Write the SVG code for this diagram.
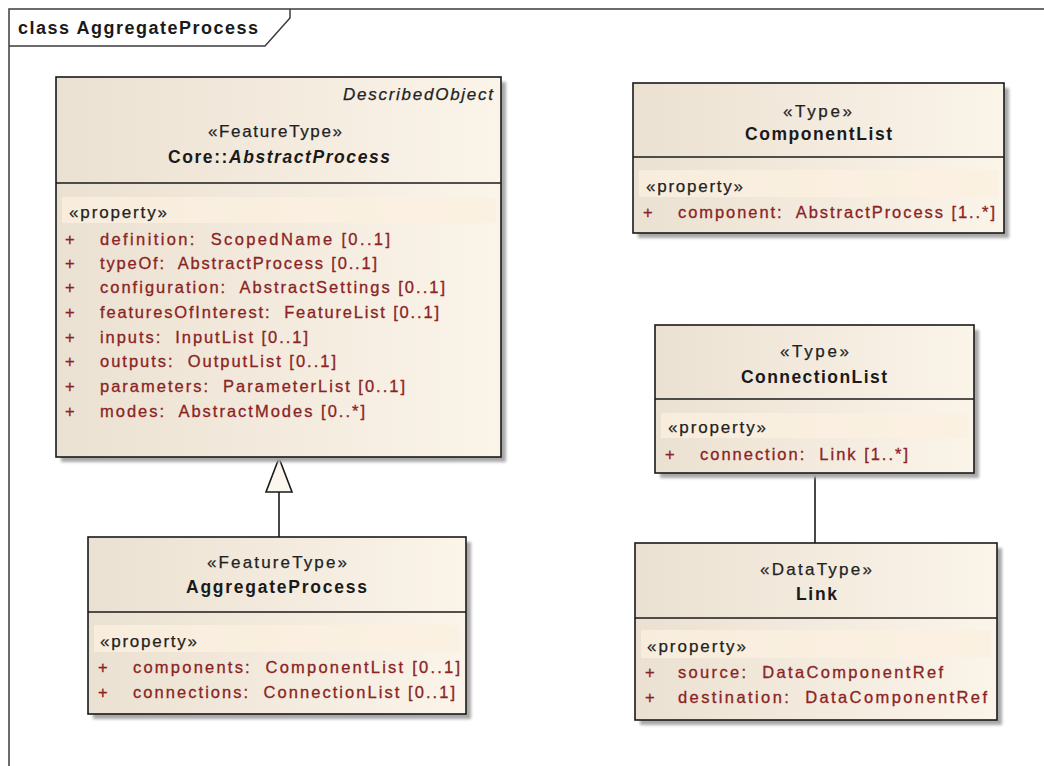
<svg xmlns="http://www.w3.org/2000/svg" width="1044" height="766" viewBox="0 0 1044 766">
<defs>
<linearGradient id="gf" x1="0" y1="0" x2="1" y2="0">
<stop offset="0" stop-color="#ebe1d2"/>
<stop offset="1" stop-color="#fbf4e9"/>
</linearGradient>
<filter id="sh" x="-5%" y="-5%" width="115%" height="115%">
<feGaussianBlur stdDeviation="1.5"/>
</filter>
<style>
.frame{fill:none;stroke:#3c3c3c;stroke-width:1.5}
.box{fill:url(#gf);stroke:#1a1a1a;stroke-width:1.6}
.shadow{fill:#a8a8a8;filter:url(#sh)}
.sep{stroke:#1a1a1a;stroke-width:1.6}
.band{fill:#fbf0e0;opacity:0.8}
text{white-space:pre}
.t{font-family:"Liberation Sans",Arial,sans-serif;font-size:17px;fill:#222;stroke:#222;stroke-width:0.25}
.n{font-family:"Liberation Sans",Arial,sans-serif;font-size:17.5px;font-weight:bold;fill:#1a1a1a}
.ttl{font-family:"Liberation Sans",Arial,sans-serif;font-size:18px;font-weight:bold;fill:#1a1a1a}
.i{font-style:italic}
.a{font-family:"Liberation Sans",Arial,sans-serif;font-size:16.5px;fill:#8b2323;stroke:#8b2323;stroke-width:0.3}
.line{stroke:#1a1a1a;stroke-width:1.6;fill:none}
</style>
</defs>
<g id="frame">
<path class="frame" d="M9,766 V9 H1044"/>
<path class="frame" d="M9,46 H265 L290,18 V9"/>
<text class="ttl" x="18" y="34" textLength="240" lengthAdjust="spacing">class AggregateProcess</text>
</g>
<g id="connectors">
<line class="line" x1="279" y1="537" x2="279" y2="492"/>
<polygon points="279,458 266,492 292,492" fill="#fbf6ee" stroke="#1a1a1a" stroke-width="1.6"/>
<line class="line" x1="815" y1="473" x2="815" y2="543"/>
</g>
<g id="AbstractProcess">
<rect class="shadow" x="61" y="82" width="445" height="380"/>
<rect class="box" x="56" y="77" width="445" height="380"/>
<line class="sep" x1="56" y1="183" x2="501" y2="183"/>
<rect class="band" x="62" y="197" width="434" height="26"/>
<text class="t i" x="493" y="100" text-anchor="end" textLength="150" lengthAdjust="spacing">DescribedObject</text>
<text class="t" x="208" y="137" textLength="134" lengthAdjust="spacing">«FeatureType»</text>
<text class="n" x="168" y="163" textLength="222" lengthAdjust="spacing">Core::<tspan class="i">AbstractProcess</tspan></text>
<text class="t" x="69" y="218" textLength="98" lengthAdjust="spacing">«property»</text>
<text class="a" x="65" y="245">+</text>
<text class="a" x="100" y="245" textLength="290" lengthAdjust="spacing">definition:  ScopedName [0..1]</text>
<text class="a" x="65" y="269">+</text>
<text class="a" x="100" y="269" textLength="277" lengthAdjust="spacing">typeOf:  AbstractProcess [0..1]</text>
<text class="a" x="65" y="293">+</text>
<text class="a" x="100" y="293" textLength="345" lengthAdjust="spacing">configuration:  AbstractSettings [0..1]</text>
<text class="a" x="65" y="318">+</text>
<text class="a" x="100" y="318" textLength="339" lengthAdjust="spacing">featuresOfInterest:  FeatureList [0..1]</text>
<text class="a" x="65" y="343">+</text>
<text class="a" x="100" y="343" textLength="208" lengthAdjust="spacing">inputs:  InputList [0..1]</text>
<text class="a" x="65" y="367">+</text>
<text class="a" x="100" y="367" textLength="236" lengthAdjust="spacing">outputs:  OutputList [0..1]</text>
<text class="a" x="65" y="392">+</text>
<text class="a" x="100" y="392" textLength="305" lengthAdjust="spacing">parameters:  ParameterList [0..1]</text>
<text class="a" x="65" y="417">+</text>
<text class="a" x="100" y="417" textLength="265" lengthAdjust="spacing">modes:  AbstractModes [0..*]</text>
</g>
<g id="AggregateProcess">
<rect class="shadow" x="93" y="542" width="378" height="177"/>
<rect class="box" x="88" y="537" width="378" height="177"/>
<line class="sep" x1="88" y1="612" x2="466" y2="612"/>
<rect class="band" x="94" y="625" width="366" height="27"/>
<text class="t" x="207" y="568" textLength="140" lengthAdjust="spacing">«FeatureType»</text>
<text class="n" x="186" y="593" textLength="181" lengthAdjust="spacing">AggregateProcess</text>
<text class="t" x="100" y="647" textLength="97" lengthAdjust="spacing">«property»</text>
<text class="a" x="98" y="673">+</text>
<text class="a" x="133" y="673" textLength="327" lengthAdjust="spacing">components:  ComponentList [0..1]</text>
<text class="a" x="98" y="698">+</text>
<text class="a" x="133" y="698" textLength="322" lengthAdjust="spacing">connections:  ConnectionList [0..1]</text>
</g>
<g id="ComponentList">
<rect class="shadow" x="638" y="88" width="371" height="150"/>
<rect class="box" x="633" y="83" width="371" height="150"/>
<line class="sep" x1="633" y1="157" x2="1004" y2="157"/>
<rect class="band" x="639" y="170" width="359" height="27"/>
<text class="t" x="783" y="117" textLength="69" lengthAdjust="spacing">«Type»</text>
<text class="n" x="745" y="140" textLength="147" lengthAdjust="spacing">ComponentList</text>
<text class="t" x="646" y="192" textLength="97" lengthAdjust="spacing">«property»</text>
<text class="a" x="643" y="218">+</text>
<text class="a" x="678" y="218" textLength="317" lengthAdjust="spacing">component:  AbstractProcess [1..*]</text>
</g>
<g id="ConnectionList">
<rect class="shadow" x="660" y="330" width="319" height="148"/>
<rect class="box" x="655" y="325" width="319" height="148"/>
<line class="sep" x1="655" y1="399" x2="974" y2="399"/>
<rect class="band" x="661" y="413" width="307" height="25"/>
<text class="t" x="780" y="357" textLength="69" lengthAdjust="spacing">«Type»</text>
<text class="n" x="741" y="383" textLength="146" lengthAdjust="spacing">ConnectionList</text>
<text class="t" x="668" y="433" textLength="98" lengthAdjust="spacing">«property»</text>
<text class="a" x="665" y="460">+</text>
<text class="a" x="700" y="460" textLength="208" lengthAdjust="spacing">connection:  Link [1..*]</text>
</g>
<g id="Link">
<rect class="shadow" x="640" y="548" width="362" height="177"/>
<rect class="box" x="635" y="543" width="362" height="177"/>
<line class="sep" x1="635" y1="618" x2="997" y2="618"/>
<rect class="band" x="641" y="630" width="350" height="28"/>
<text class="t" x="760" y="575" textLength="112" lengthAdjust="spacing">«DataType»</text>
<text class="n" x="796" y="600" textLength="41" lengthAdjust="spacing">Link</text>
<text class="t" x="647" y="652" textLength="99" lengthAdjust="spacing">«property»</text>
<text class="a" x="645" y="678">+</text>
<text class="a" x="678" y="678" textLength="265" lengthAdjust="spacing">source:  DataComponentRef</text>
<text class="a" x="645" y="703">+</text>
<text class="a" x="678" y="703" textLength="309" lengthAdjust="spacing">destination:  DataComponentRef</text>
</g>
</svg>
